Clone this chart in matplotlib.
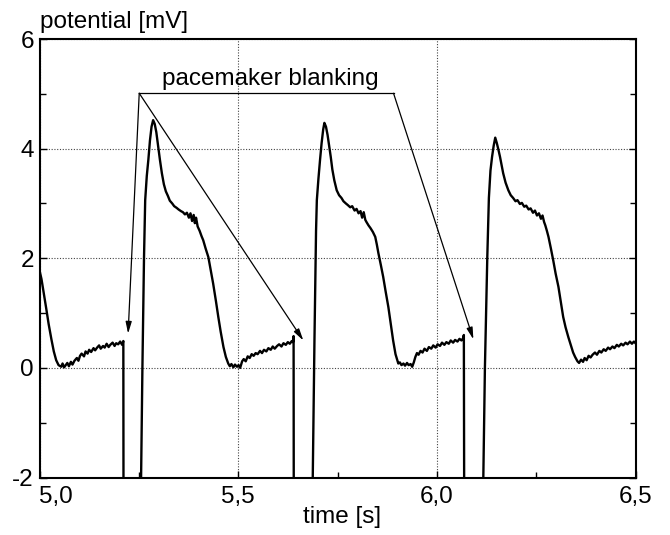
import numpy as np
import matplotlib
matplotlib.use("Agg")
import matplotlib.pyplot as plt
from matplotlib.ticker import MultipleLocator, FixedLocator, FixedFormatter

plt.rcParams['font.family'] = ['Liberation Sans', 'DejaVu Sans']

# ---------------- data ----------------
# end of previous beat + diastolic baseline, then pacemaker blanking
t_seg1 = [5.000, 5.005, 5.010, 5.017, 5.023, 5.030, 5.036, 5.042, 5.048, 5.055,
          5.058, 5.062, 5.066, 5.070, 5.074, 5.079, 5.083, 5.088, 5.094, 5.098,
          5.102, 5.106, 5.112, 5.116, 5.121, 5.125, 5.130, 5.136, 5.140, 5.145,
          5.150, 5.154, 5.160, 5.164, 5.169, 5.174, 5.178, 5.184, 5.189, 5.193,
          5.198, 5.203, 5.208, 5.211, 5.2115]
v_seg1 = [1.78, 1.62, 1.40, 1.08, 0.80, 0.52, 0.30, 0.14, 0.05, 0.02,
          0.08, 0.01, 0.05, 0.09, 0.03, 0.11, 0.06, 0.13, 0.18, 0.13,
          0.22, 0.26, 0.21, 0.30, 0.26, 0.33, 0.29, 0.36, 0.32, 0.37,
          0.41, 0.35, 0.40, 0.37, 0.44, 0.38, 0.42, 0.46, 0.40, 0.45,
          0.43, 0.48, 0.42, 0.49, -3.0]

# beat 1
t_seg2 = [5.254, 5.259, 5.263, 5.266, 5.270, 5.274, 5.278, 5.282, 5.286, 5.290,
          5.294, 5.298, 5.303, 5.308, 5.313, 5.318, 5.323, 5.328, 5.334, 5.339,
          5.345, 5.350, 5.356, 5.361, 5.366, 5.371, 5.376, 5.380, 5.384, 5.388,
          5.391, 5.394, 5.398, 5.403, 5.408, 5.412, 5.418, 5.425, 5.431, 5.437,
          5.444, 5.450, 5.456, 5.463, 5.469, 5.475,
          5.479, 5.483, 5.488, 5.492, 5.497, 5.501, 5.505, 5.510, 5.514, 5.519,
          5.524, 5.529, 5.534, 5.539, 5.544, 5.549, 5.555, 5.560, 5.565, 5.571,
          5.576, 5.582, 5.587, 5.592, 5.598, 5.603, 5.609, 5.614, 5.620, 5.625,
          5.630, 5.635, 5.638, 5.6395, 5.640]
v_seg2 = [-3.0, 0.0, 2.0, 3.06, 3.50, 3.80, 4.15, 4.40, 4.52, 4.45,
          4.30, 4.08, 3.80, 3.55, 3.35, 3.22, 3.14, 3.05, 3.00, 2.95,
          2.92, 2.89, 2.86, 2.84, 2.80, 2.83, 2.74, 2.82, 2.68, 2.79,
          2.64, 2.74, 2.58, 2.50, 2.40, 2.33, 2.18, 2.02, 1.78, 1.54,
          1.22, 0.93, 0.66, 0.38, 0.20, 0.08,
          0.03, 0.07, 0.01, 0.06, 0.02, 0.05, 0.00, 0.12, 0.16, 0.12,
          0.21, 0.18, 0.25, 0.22, 0.27, 0.25, 0.31, 0.27, 0.33, 0.30,
          0.36, 0.33, 0.39, 0.35, 0.40, 0.43, 0.39, 0.45, 0.42, 0.47,
          0.44, 0.49, 0.47, 0.58, -3.0]

# beat 2
t_seg3 = [5.686, 5.692, 5.696, 5.698, 5.702, 5.706, 5.710, 5.714, 5.717, 5.721,
          5.725, 5.729, 5.733, 5.737, 5.742, 5.748, 5.754, 5.760, 5.765, 5.771,
          5.776, 5.782, 5.787, 5.793, 5.798, 5.803, 5.808, 5.812, 5.816, 5.820,
          5.823, 5.828, 5.833, 5.839, 5.845, 5.849, 5.853, 5.859, 5.865, 5.871,
          5.878, 5.884, 5.890, 5.896, 5.903,
          5.907, 5.911, 5.916, 5.920, 5.925, 5.929, 5.934, 5.938, 5.942, 5.946,
          5.950, 5.954, 5.959, 5.964, 5.969, 5.975, 5.980, 5.986, 5.991, 5.997,
          6.002, 6.008, 6.013, 6.019, 6.024, 6.030, 6.035, 6.041, 6.046, 6.052,
          6.057, 6.062, 6.066, 6.068, 6.069]
v_seg3 = [-3.0, 0.5, 2.5, 3.06, 3.45, 3.79, 4.10, 4.35, 4.47, 4.40,
          4.25, 4.05, 3.85, 3.62, 3.42, 3.24, 3.15, 3.10, 3.04, 3.00,
          2.97, 2.93, 2.95, 2.87, 2.90, 2.82, 2.86, 2.74, 2.84, 2.70,
          2.66, 2.60, 2.55, 2.48, 2.39, 2.25, 2.09, 1.88, 1.66, 1.40,
          1.11, 0.80, 0.50, 0.25, 0.08,
          0.10, 0.05, 0.08, 0.04, 0.09, 0.05, 0.07, 0.02, 0.10, 0.20,
          0.27, 0.24, 0.31, 0.28, 0.35, 0.31, 0.38, 0.35, 0.41, 0.37,
          0.43, 0.40, 0.46, 0.42, 0.47, 0.44, 0.50, 0.46, 0.51, 0.48,
          0.53, 0.50, 0.54, 0.60, -3.0]

# beat 3
t_seg4 = [6.115, 6.121, 6.127, 6.131, 6.135, 6.139, 6.143, 6.147, 6.151, 6.155,
          6.159, 6.163, 6.167, 6.173, 6.180, 6.186, 6.192, 6.198, 6.203, 6.209,
          6.214, 6.220, 6.225, 6.231, 6.236, 6.242, 6.247, 6.252, 6.257, 6.262,
          6.266, 6.270, 6.273, 6.277, 6.281, 6.287, 6.293, 6.299, 6.306, 6.312,
          6.318, 6.324, 6.331, 6.338, 6.343, 6.348, 6.354,
          6.358, 6.363, 6.368, 6.372, 6.377, 6.382, 6.387, 6.392, 6.398, 6.403,
          6.409, 6.414, 6.420, 6.425, 6.431, 6.436, 6.442, 6.447, 6.453, 6.458,
          6.464, 6.469, 6.475, 6.480, 6.486, 6.491, 6.496, 6.500]
v_seg4 = [-3.0, 0.0, 2.02, 3.10, 3.60, 3.85, 4.05, 4.20, 4.10, 3.98,
          3.85, 3.70, 3.55, 3.38, 3.24, 3.15, 3.10, 3.04, 3.06, 2.99,
          3.01, 2.94, 2.96, 2.89, 2.91, 2.83, 2.87, 2.78, 2.82, 2.72,
          2.78, 2.66, 2.60, 2.50, 2.39, 2.18, 1.96, 1.72, 1.48, 1.20,
          0.93, 0.74, 0.56, 0.40, 0.28, 0.20, 0.12,
          0.09, 0.15, 0.11, 0.18, 0.14, 0.22, 0.19, 0.24, 0.28, 0.24,
          0.31, 0.28, 0.34, 0.31, 0.37, 0.34, 0.39, 0.36, 0.42, 0.39,
          0.44, 0.41, 0.46, 0.43, 0.48, 0.44, 0.48, 0.45]

x_ticks = [5.0, 5.5, 6.0, 6.5]
x_tick_labels = ["5,0", "5,5", "6,0", "6,5"]
y_ticks = [-2, 0, 2, 4, 6]
y_tick_labels = ["-2", "0", "2", "4", "6"]

annot_text = "pacemaker blanking"
annot_starts = [(5.251, 5.01), (5.251, 5.01), (5.891, 5.01)]
annot_tips = [(5.223, 0.625), (5.664, 0.50), (6.092, 0.52)]

# ---------------- plot ----------------
FS = 17.5
fig = plt.figure(figsize=(6.7, 5.35), dpi=100)
ax = fig.add_axes([39.5 / 670, 1 - 477.5 / 535, 596 / 670, 438.5 / 535])

t_all = np.concatenate([t_seg1, t_seg2, t_seg3, t_seg4])
v_all = np.concatenate([v_seg1, v_seg2, v_seg3, v_seg4])
ax.plot(t_all, v_all, color='black', lw=1.7, solid_joinstyle='round', zorder=3)

ax.set_xlim(5.0, 6.5)
ax.set_ylim(-2, 6)

ax.xaxis.set_major_locator(FixedLocator(x_ticks))
ax.xaxis.set_major_formatter(FixedFormatter(x_tick_labels))
ax.xaxis.set_minor_locator(MultipleLocator(0.25))
ax.yaxis.set_major_locator(FixedLocator(y_ticks))
ax.yaxis.set_major_formatter(FixedFormatter(y_tick_labels))
ax.yaxis.set_minor_locator(MultipleLocator(1))

ax.tick_params(which='both', direction='in', left=True, right=True,
               top=False, bottom=True, width=1, color='black')
ax.tick_params(which='major', length=5)
ax.tick_params(which='minor', length=4)
ax.tick_params(axis='x', which='major', labelsize=FS, pad=6)
ax.tick_params(axis='y', which='major', labelsize=FS, pad=4)
fig.canvas.draw()
ax.get_xticklabels()[0].set_horizontalalignment('left')

for sp in ax.spines.values():
    sp.set_linewidth(1.5)
    sp.set_zorder(5)

ax.grid(True, which='major', linestyle=(0, (1, 1.5)), linewidth=0.8,
        color='#444444', zorder=1)

# annotation
ax.plot([annot_starts[0][0], annot_starts[2][0]],
        [annot_starts[0][1], annot_starts[2][1]], color='black', lw=0.9, zorder=4)
for s, tip in zip(annot_starts, annot_tips):
    ax.annotate('', xy=tip, xytext=s,
                arrowprops=dict(arrowstyle='-|>,head_length=0.7,head_width=0.18',
                                lw=0.9, color='black', shrinkA=0, shrinkB=0),
                zorder=4)
ax.text(5.580, 5.16, annot_text, ha='center', va='baseline', fontsize=FS, zorder=4)

fig.text(40 / 670, 1 - 28 / 535, "potential [mV]", ha='left', va='baseline', fontsize=FS)
fig.text(342 / 670, 1 - 523 / 535, "time [s]", ha='center', va='baseline', fontsize=FS)

fig.savefig("out.png", dpi=100)
